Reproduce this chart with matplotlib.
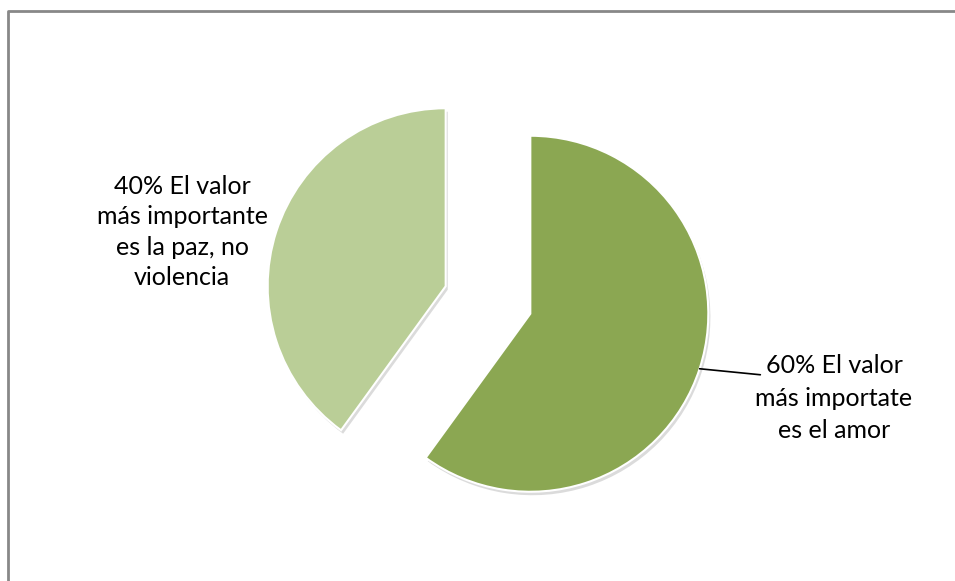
import numpy as np
import matplotlib.pyplot as plt
from matplotlib import patheffects as pe
from matplotlib.lines import Line2D

# data
values = [60, 40]
labels = ['60% El valor\nmás importate\nes el amor',
          '40% El valor\nmás importante\nes la paz, no\nviolencia']
colors = ['#8BA752', '#BACE97']
explode = [0.25, 0.25]

plt.rcParams['font.family'] = ['Lato', 'DejaVu Sans']

W, H = 955, 581
R = 178.0          # pie radius in px
cx, cy = 488, 300  # pie centre in px (from top-left)

fig = plt.figure(figsize=(W / 100, H / 100), dpi=100)
ax = fig.add_axes([0, 0, 1, 1])

wedges, _ = ax.pie(values, colors=colors, explode=explode, startangle=90,
                   counterclock=False, radius=1,
                   wedgeprops=dict(edgecolor='white', linewidth=1.5))
for w in wedges:
    w.set_path_effects([pe.SimplePatchShadow(offset=(1.5, -2.5), shadow_rgbFace='#9a9a9a', alpha=0.35),
                        pe.Normal()])

ax.set_aspect('auto')
ax.set_xlim(-cx / R, (W - cx) / R)
ax.set_ylim(-(H - cy) / R, cy / R)
ax.axis('off')

# 60% label with leader line from the wedge edge at its mid angle
w = wedges[0]
mid = np.deg2rad((w.theta1 + w.theta2) / 2)
ex, ey = w.center
edge = (ex + np.cos(mid), ey + np.sin(mid))
ax.annotate('', xy=edge, xytext=(1.53, -0.42),
            arrowprops=dict(arrowstyle='-', color='black', lw=1.2, shrinkA=0, shrinkB=0))
ax.text(1.944, -0.551, labels[0], ha='center', va='center', fontsize=18,
        linespacing=1.5, color='black')

# 40% label
ax.text(-1.719, 0.382, labels[1], ha='center', va='center', fontsize=18,
        linespacing=1.4, color='black')

# chart border: only left and top edges fall inside the picture
bx, by = 8 / W, 1 - 11 / H
fig.add_artist(Line2D([bx, bx, 1.0], [0.0, by, by], transform=fig.transFigure,
                      color='#888888', linewidth=2))

fig.savefig('out.png', dpi=100, facecolor='white')
